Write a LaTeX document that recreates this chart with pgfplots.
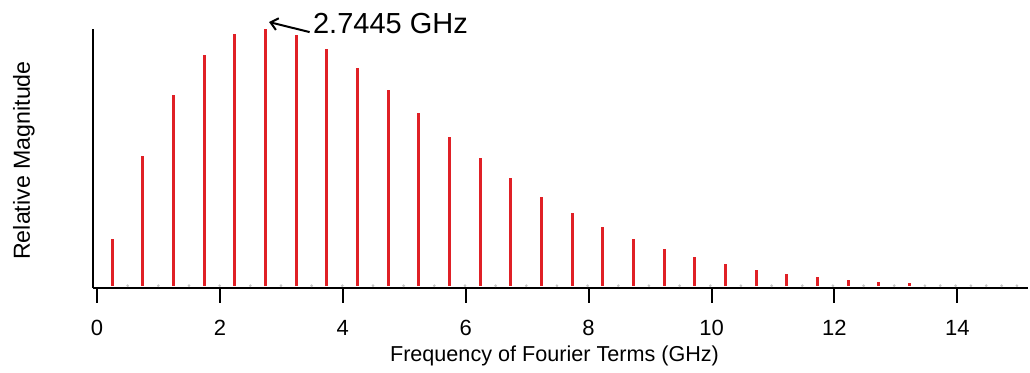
\documentclass[border=0pt]{standalone}
\usepackage{fontspec}
\setmainfont{Liberation Sans}
\usepackage{pgfplots}
\pgfplotsset{compat=1.18}
\usetikzlibrary{arrows.meta}
\definecolor{stemred}{RGB}{224,32,38}

% Odd Fourier terms of the pulse train (frequency in GHz, normalised magnitude)
\pgfplotstableread{
f        mag
0.2495   0.183
0.7485   0.507
1.2475   0.744
1.7465   0.899
2.2455   0.979
2.7445   1.000
3.2435   0.977
3.7425   0.921
4.2415   0.847
4.7405   0.762
5.2395   0.672
5.7385   0.581
6.2375   0.497
6.7365   0.418
7.2355   0.347
7.7345   0.283
8.2335   0.227
8.7325   0.182
9.2315   0.143
9.7305   0.110
10.2295  0.083
10.7285  0.062
11.2275  0.046
11.7265  0.032
12.2255  0.021
12.7245  0.014
13.2235  0.0105
}\oddterms

% Terms with (practically) zero magnitude
\pgfplotstableread{
f       mag
0.499   0
0.998   0
1.497   0
1.996   0
2.495   0
2.994   0
3.493   0
3.992   0
4.491   0
4.990   0
5.489   0
5.988   0
6.487   0
6.986   0
7.485   0
7.984   0
8.483   0
8.982   0
9.481   0
9.980   0
10.479  0
10.978  0
11.477  0
11.976  0
12.475  0
12.974  0
13.473  0
13.7225 0
13.972  0
14.2215 0
14.471  0
14.7205 0
14.970  0
}\zeroterms

\begin{document}
\begin{tikzpicture}
\useasboundingbox (-46.5pt,-42.5pt) rectangle (468.5pt,144pt);
\begin{axis}[
  scale only axis, width=467.5pt, height=129.5pt,
  at={(0,0)}, anchor=south west,
  xmin=-0.065, xmax=15.15, ymin=-0.009, ymax=1.0,
  axis x line*=bottom, axis y line*=left,
  axis line style={line width=1pt, -},
  xtick={0,2,...,14}, ytick=\empty,
  xtick align=outside, xtick pos=bottom,
  major tick length=7.5pt,
  xtick style={line width=1pt, black},
  /pgf/number format/assume math mode=true,
  ticklabel style={font=\fontsize{11}{13}\selectfont},
  xticklabel style={yshift=-5pt},
  xlabel={Frequency of Fourier Terms (GHz)},
  ylabel={Relative Magnitude},
  xlabel style={font=\fontsize{10.8}{13}\selectfont,
    at={(axis description cs:0.5,0)}, anchor=base, yshift=-37pt, xshift=-3pt},
  ylabel style={font=\fontsize{11.6}{14}\selectfont,
    at={(axis description cs:0,0.5)}, anchor=center, yshift=34.5pt, xshift=-1pt},
  clip=false,
]
\addplot[only marks, mark=*, mark size=0.45pt, color=black!22] table[x=f, y=mag] {\zeroterms};
\addplot[ycomb, color=stemred, line width=1.5pt, line cap=butt] table[x=f, y=mag] {\oddterms};
\draw[line width=1pt, -{Straight Barb[length=3.5pt,width=6pt]}]
  (axis cs:3.46,0.988) -- (axis cs:2.80,1.027);
\node[anchor=base west, inner sep=0pt, font=\fontsize{14.5}{17}\selectfont]
  at (axis cs:3.51,0.984) {2.7445 GHz};
\end{axis}
\end{tikzpicture}
\end{document}
